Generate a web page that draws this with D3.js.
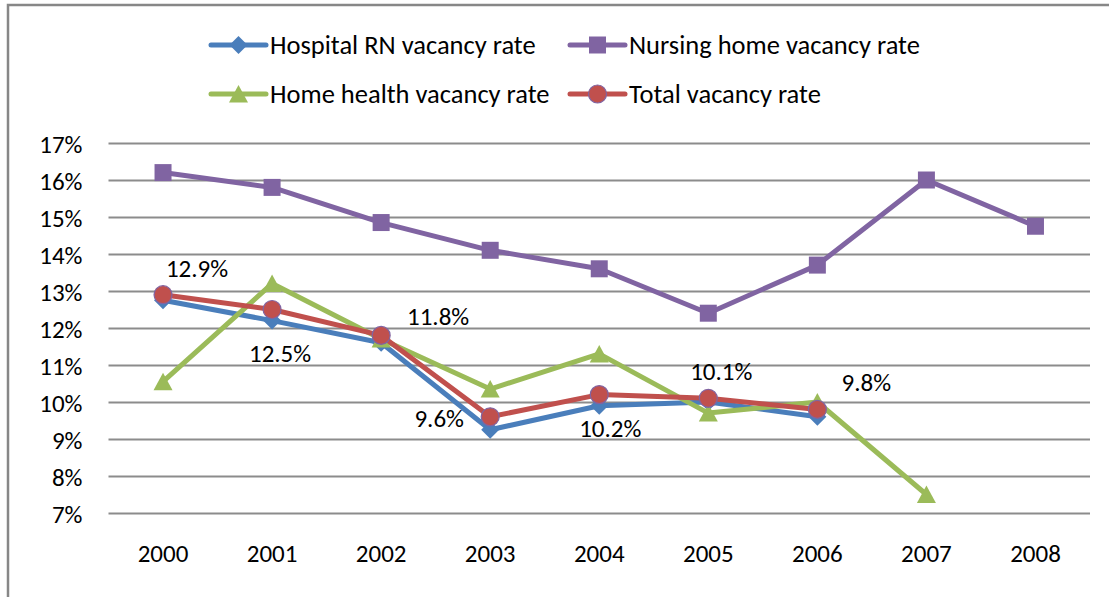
<!DOCTYPE html>
<html>
<head>
<meta charset="utf-8">
<script src="https://cdn.jsdelivr.net/npm/d3@7"></script>
<style>
body{margin:0;background:#fff;overflow:hidden;}
text{font-family:Carlito, Lato, sans-serif;fill:#000;}
</style>
</head>
<body>
<script>
//wrap everything in a self-executing anonymous function
(function(){

//chart data
var years = ["2000", "2001", "2002", "2003", "2004", "2005", "2006", "2007", "2008"];
var hospitalRN = [12.75, 12.2, 11.6, 9.25, 9.9, 10.0, 9.6, null, null];
var nursingHome = [16.2, 15.8, 14.85, 14.1, 13.6, 12.4, 13.7, 16.0, 14.75];
var homeHealth = [10.55, 13.2, 11.7, 10.35, 11.3, 9.7, 10.0, 7.5, null];
var totalRate = [12.9, 12.5, 11.8, 9.6, 10.2, 10.1, 9.8, null, null];
var seriesNames = ["Hospital RN vacancy rate", "Nursing home vacancy rate", "Home health vacancy rate", "Total vacancy rate"];
var yTicks = [7, 8, 9, 10, 11, 12, 13, 14, 15, 16, 17];

//where each total-rate label sits relative to its point
var labelOffsets = [[34, -18], [8, 52], [57, -10], [-51, 10], [11, 42], [13, -18], [49, -18]];

var colors = ["#4a7ebb", "#8064a2", "#9bbb59", "#c0504d"];
var shapes = ["diamond", "square", "triangle", "circle"];

var width = 1109,
    height = 597,
    plotLeft = 108.5,
    plotRight = 1090,
    plotTop = 143,
    plotBottom = 513,
    fontSize = 25,
    legendFontSize = 26.5;

var svg = d3.select("body")
    .append("svg")
    .attr("width", width)
    .attr("height", height);

//outer chart border (runs off the right and bottom edges)
svg.append("rect")
    .attr("x", 8)
    .attr("y", 5)
    .attr("width", width)
    .attr("height", height)
    .attr("fill", "#fff")
    .attr("stroke", "#878787")
    .attr("stroke-width", 2.5);

var x = d3.scaleBand()
    .domain(years)
    .range([plotLeft, plotRight]);

var y = d3.scaleLinear()
    .domain([7, 17])
    .range([plotBottom, plotTop]);

function xc(d){
    return x(d) + x.bandwidth() / 2;
};

//y axis with gridlines
var yAxis = d3.axisLeft(y)
    .tickValues(yTicks)
    .tickSize(-(plotRight - plotLeft))
    .tickPadding(26)
    .tickFormat(function(d){ return d + "%"; });

var gy = svg.append("g")
    .attr("transform", "translate(" + plotLeft + ",0)")
    .call(yAxis);
gy.select(".domain").remove();
gy.selectAll("line")
    .attr("stroke", "#8c8c8c")
    .attr("stroke-width", 2);
gy.selectAll("text")
    .style("font-size", fontSize + "px")
    .attr("dy", "0.36em");

//x axis, labels only
var xAxis = d3.axisBottom(x)
    .tickSize(0)
    .tickPadding(31);

var gx = svg.append("g")
    .attr("transform", "translate(0," + plotBottom + ")")
    .call(xAxis);
gx.select(".domain").remove();
gx.selectAll("text")
    .style("font-size", fontSize + "px");

//marker path generator, centred on 0,0
function markerPath(shape){
    if (shape == "diamond"){
        return "M0,-9L9,0L0,9L-9,0Z";
    } else if (shape == "square"){
        return "M-8.5,-8.5H8.5V8.5H-8.5Z";
    } else if (shape == "triangle"){
        return "M0,-9L9.5,8.5L-9.5,8.5Z";
    }
    return d3.symbol().type(d3.symbolCircle).size(Math.PI * 9 * 9)();
};

function drawMarker(g, shape, color, px, py){
    var m = g.append("path")
        .attr("d", markerPath(shape))
        .attr("transform", "translate(" + px + "," + py + ")")
        .attr("fill", color);
    if (shape == "circle"){
        m.attr("stroke", "#8064a2").attr("stroke-width", 1.2);
    };
};

var allSeries = [hospitalRN, nursingHome, homeHealth, totalRate];

var line = d3.line()
    .defined(function(d){ return d.v != null; })
    .x(function(d){ return xc(d.year); })
    .y(function(d){ return y(d.v); });

allSeries.forEach(function(vals, s){
    var pts = years.map(function(yr, i){ return {year: yr, v: vals[i]}; });
    var g = svg.append("g").attr("class", "series");
    g.append("path")
        .datum(pts)
        .attr("d", line)
        .attr("fill", "none")
        .attr("stroke", colors[s])
        .attr("stroke-width", 5)
        .attr("stroke-linejoin", "round");
    pts.forEach(function(p){
        if (p.v != null){
            drawMarker(g, shapes[s], colors[s], xc(p.year), y(p.v));
        };
    });
});

//data labels for total vacancy rate
svg.selectAll(".numbers")
    .data(totalRate.filter(function(d){ return d != null; }))
    .enter()
    .append("text")
    .attr("class", "numbers")
    .attr("text-anchor", "middle")
    .style("font-size", fontSize + "px")
    .attr("x", function(d, i){ return xc(years[i]) + labelOffsets[i][0]; })
    .attr("y", function(d, i){ return y(d) + labelOffsets[i][1]; })
    .text(function(d){ return d.toFixed(1) + "%"; });

//legend, two rows of two
var legendCols = [211, 570],
    legendRows = [45, 94];

seriesNames.forEach(function(name, s){
    var lx = legendCols[s % 2],
        ly = legendRows[Math.floor(s / 2)];
    var g = svg.append("g").attr("class", "legend");
    g.append("line")
        .attr("x1", lx)
        .attr("x2", lx + 55)
        .attr("y1", ly)
        .attr("y2", ly)
        .attr("stroke", colors[s])
        .attr("stroke-width", 5)
        .attr("stroke-linecap", "round");
    drawMarker(g, shapes[s], colors[s], lx + 27.5, ly);
    g.append("text")
        .attr("x", lx + 59)
        .attr("y", ly + 8.5)
        .style("font-size", legendFontSize + "px")
        .text(name);
});

})();
</script>
</body>
</html>
